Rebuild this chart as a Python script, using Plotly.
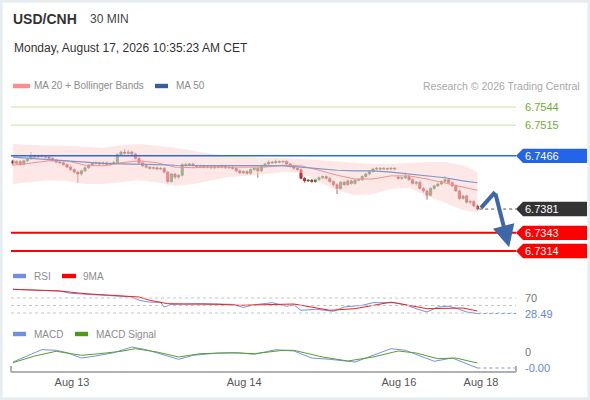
import plotly.graph_objects as go

# ---------------- data ----------------
opens = [6.7458,6.7454,6.7457,6.7452,6.7458,6.7461,6.7466,6.7464,6.7466,6.7465,
         6.7464,6.7462,6.7459,6.7456,6.7455,6.7452,6.7448,6.7444,6.7440,6.7437,
         6.7442,6.7447,6.7451,6.7454,6.7455,6.7453,6.7455,6.7452,6.7454,6.7455,
         6.7468,6.7472,6.7470,6.7472,6.7469,6.7462,6.7455,6.7450,6.7448,6.7446,
         6.7447,6.7445,6.7446,6.7440,6.7425,6.7437,6.7432,6.7435,6.7452,6.7451,
         6.7453,6.7450,6.7449,6.7450,6.7448,6.7449,6.7447,6.7449,6.7448,6.7450,
         6.7447,6.7448,6.7446,6.7442,6.7439,6.7441,6.7438,6.7444,6.7446,6.7442,
         6.7450,6.7453,6.7456,6.7455,6.7457,6.7456,6.7457,6.7453,6.7449,6.7446,
         6.7444,6.7430,6.7426,6.7427,6.7425,6.7428,6.7431,6.7433,6.7430,6.7425,
         6.7420,6.7414,6.7424,6.7420,6.7426,6.7422,6.7427,6.7428,6.7433,6.7437,
         6.7441,6.7445,6.7446,6.7445,6.7446,6.7445,6.7446,6.7432,6.7430,6.7431,
         6.7433,6.7428,6.7422,6.7424,6.7414,6.7410,6.7403,6.7414,6.7418,6.7421,
         6.7425,6.7428,6.7423,6.7418,6.7410,6.7398,6.7402,6.7392,6.7393,6.7386]
highs = [6.7460,6.7459,6.7459,6.7460,6.7463,6.7472,6.7468,6.7468,6.7468,6.7467,
         6.7466,6.7464,6.7461,6.7458,6.7457,6.7454,6.7450,6.7446,6.7442,6.7444,
         6.7449,6.7453,6.7456,6.7457,6.7457,6.7457,6.7457,6.7456,6.7458,6.7470,
         6.7474,6.7477,6.7475,6.7474,6.7471,6.7464,6.7457,6.7452,6.7450,6.7449,
         6.7449,6.7448,6.7448,6.7442,6.7439,6.7439,6.7437,6.7454,6.7455,6.7455,
         6.7455,6.7452,6.7452,6.7452,6.7451,6.7451,6.7451,6.7451,6.7452,6.7452,
         6.7450,6.7450,6.7448,6.7444,6.7443,6.7443,6.7446,6.7448,6.7448,6.7452,
         6.7455,6.7459,6.7458,6.7460,6.7459,6.7459,6.7459,6.7455,6.7451,6.7448,
         6.7446,6.7432,6.7429,6.7429,6.7430,6.7433,6.7435,6.7435,6.7432,6.7427,
         6.7422,6.7426,6.7426,6.7428,6.7428,6.7429,6.7430,6.7435,6.7439,6.7443,
         6.7447,6.7448,6.7448,6.7448,6.7447,6.7448,6.7448,6.7434,6.7433,6.7439,
         6.7435,6.7430,6.7426,6.7426,6.7416,6.7412,6.7416,6.7420,6.7423,6.7427,
         6.7434,6.7430,6.7425,6.7420,6.7412,6.7404,6.7404,6.7396,6.7395,6.7388]
lows = [6.7450,6.7452,6.7450,6.7451,6.7456,6.7460,6.7462,6.7463,6.7463,6.7462,
        6.7460,6.7457,6.7454,6.7453,6.7450,6.7446,6.7442,6.7438,6.7423,6.7434,
        6.7440,6.7445,6.7449,6.7452,6.7451,6.7451,6.7450,6.7450,6.7452,6.7453,
        6.7466,6.7468,6.7468,6.7467,6.7460,6.7453,6.7448,6.7446,6.7444,6.7444,
        6.7443,6.7443,6.7438,6.7422,6.7423,6.7429,6.7429,6.7433,6.7448,6.7449,
        6.7448,6.7447,6.7447,6.7446,6.7446,6.7445,6.7445,6.7446,6.7446,6.7445,
        6.7445,6.7444,6.7440,6.7437,6.7437,6.7436,6.7436,6.7442,6.7431,6.7440,
        6.7448,6.7451,6.7453,6.7453,6.7454,6.7454,6.7451,6.7447,6.7444,6.7442,
        6.7428,6.7423,6.7424,6.7423,6.7423,6.7426,6.7429,6.7428,6.7423,6.7417,
        6.7405,6.7412,6.7418,6.7418,6.7420,6.7420,6.7425,6.7426,6.7431,6.7435,
        6.7439,6.7443,6.7443,6.7443,6.7443,6.7443,6.7443,6.7428,6.7428,6.7429,
        6.7426,6.7420,6.7418,6.7412,6.7407,6.7396,6.7401,6.7412,6.7416,6.7419,
        6.7423,6.7421,6.7416,6.7408,6.7395,6.7396,6.7390,6.7389,6.7384,6.7379]
closes = [6.7454,6.7457,6.7452,6.7458,6.7461,6.7466,6.7464,6.7466,6.7465,6.7464,
          6.7462,6.7459,6.7456,6.7455,6.7452,6.7448,6.7444,6.7440,6.7437,6.7442,
          6.7447,6.7451,6.7454,6.7455,6.7453,6.7455,6.7452,6.7454,6.7455,6.7468,
          6.7472,6.7470,6.7472,6.7469,6.7462,6.7455,6.7450,6.7448,6.7446,6.7447,
          6.7445,6.7446,6.7440,6.7425,6.7437,6.7432,6.7435,6.7452,6.7451,6.7453,
          6.7450,6.7449,6.7450,6.7448,6.7449,6.7447,6.7449,6.7448,6.7450,6.7447,
          6.7448,6.7446,6.7442,6.7439,6.7441,6.7438,6.7444,6.7446,6.7442,6.7450,
          6.7453,6.7456,6.7455,6.7457,6.7456,6.7457,6.7453,6.7449,6.7446,6.7444,
          6.7430,6.7426,6.7427,6.7425,6.7428,6.7431,6.7433,6.7430,6.7425,6.7420,
          6.7414,6.7424,6.7420,6.7426,6.7422,6.7427,6.7428,6.7433,6.7437,6.7441,
          6.7445,6.7446,6.7445,6.7446,6.7445,6.7446,6.7445,6.7430,6.7431,6.7433,
          6.7428,6.7422,6.7424,6.7414,6.7410,6.7403,6.7414,6.7418,6.7421,6.7425,
          6.7428,6.7423,6.7418,6.7410,6.7398,6.7402,6.7392,6.7393,6.7386,6.7381]
candle_idx = list(range(len(closes)))

# indicator samples (candle index -> value)
ind_idx = [0,5,10,15,20,25,30,35,40,45,50,55,60,65,70,75,80,85,90,95,100,105,110,115,120,125,129]
ma50 = [6.7464,6.7462,6.7459,6.7457,6.7455,6.7454,6.7453,6.7453,6.7452,6.7451,6.7451,6.7451,6.7451,
        6.7450,6.7450,6.7450,6.7448,6.7445,6.7443,6.7442,6.7442,6.7440,6.7437,6.7434,6.7431,6.7426,6.7423]
ma20 = [6.7451,6.7455,6.7458,6.7458,6.7451,6.7450,6.7455,6.7458,6.7455,6.7448,6.7447,6.7448,6.7448,
        6.7447,6.7448,6.7451,6.7450,6.7443,6.7435,6.7429,6.7429,6.7434,6.7434,6.7429,6.7423,6.7416,6.7411]
bb_upper = [6.7485,6.7483,6.7482,6.7482,6.7480,6.7479,6.7483,6.7485,6.7482,6.7479,6.7474,6.7469,6.7466,
            6.7464,6.7463,6.7463,6.7461,6.7459,6.7458,6.7455,6.7453,6.7453,6.7455,6.7456,6.7456,6.7451,6.7440]
bb_lower = [6.7421,6.7424,6.7427,6.7426,6.7421,6.7421,6.7424,6.7427,6.7424,6.7418,6.7421,6.7427,6.7432,
            6.7434,6.7437,6.7440,6.7439,6.7424,6.7411,6.7403,6.7405,6.7413,6.7415,6.7402,6.7391,6.7379,6.7376]

green_levels = [6.7544, 6.7515]
resistance_level = 6.7466
support_levels = [6.7343, 6.7314]
last_price = 6.7381
forecast_x = [130.0, 133.9, 137.8]
forecast_y = [6.7383, 6.7408, 6.7320]

rsi_idx = [0,13,16,24,30,33,35,38,41,42,44,52,61,64,67,72,76,78,80,84,89,92,97,100,106,109,112,115,118,121,124,126,129]
rsi = [93.2,88.5,82.5,78.8,74.5,73.0,64.0,59.0,58.5,46.0,53.0,55.0,53.0,45.0,52.0,57.5,48.0,52.0,37.0,
       40.0,34.5,46.0,50.5,57.5,57.5,52.0,41.5,32.7,46.0,48.0,40.0,32.7,28.49]
rsi_ma_idx = [0,13,20,29,35,38,43,48,57,63,71,78,88,95,105,111,115,125,129]
rsi_ma = [93.2,88.7,81.5,77.2,72.7,63.9,54.8,54.0,53.2,50.5,52.1,54.0,37.2,41.5,59.0,48.7,41.5,43.3,35.3]
rsi_levels = [70, 50, 30]

macd_idx = [0,4,8,12,15,19,23,28,33,37,41,46,50,57,63,67,73,78,83,88,95,100,105,109,114,117,122,126,129]
macd = [-0.00020,-0.00008,0.000046,0.000034,-0.000014,-0.00012,-0.00008,-0.000014,0.00010,0.000046,
        -0.000034,-0.000146,-0.000066,-0.00002,-0.00002,-0.000046,0.000046,0.00002,-0.00012,-0.000146,
        -0.00020,-0.000066,0.000066,0.000034,-0.00010,-0.000186,-0.00012,-0.000234,-0.00032]
signal_idx = [0,6,12,19,24,30,34,40,46,52,61,67,75,78,86,93,100,107,112,118,123,129]
signal = [-0.000214,-0.00008,0.000014,-0.000066,-0.000034,0.000014,0.000066,0.0,-0.00010,-0.000034,
          -0.000014,-0.000034,0.000034,0.000034,-0.00010,-0.00018,-0.00010,0.00002,-0.00002,-0.000134,
          -0.00012,-0.00022]

tick_vals = [16.4, 64.2, 107.2, 130.0]
tick_text = ["Aug 13", "Aug 14", "Aug 16", "Aug 18"]

# ---------------- layout helpers ----------------
W, H = 590, 400
FONT = "Liberation Sans, Arial, sans-serif"
X_END = 139.72
def px(x): return x / W
def py(y): return 1 - y / H

fig = go.Figure()

# Bollinger band
fig.add_trace(go.Scatter(x=ind_idx, y=bb_lower, mode="lines", line=dict(width=0, color="rgba(0,0,0,0)"),
                         hoverinfo="skip", showlegend=False))
fig.add_trace(go.Scatter(x=ind_idx, y=bb_upper, mode="lines", line=dict(width=0, color="rgba(0,0,0,0)"),
                         fill="tonexty", fillcolor="rgba(252,212,212,0.55)", hoverinfo="skip", showlegend=False))
fig.add_trace(go.Scatter(x=ind_idx, y=ma20, mode="lines", line=dict(width=1, color="#f49090"), showlegend=False))
fig.add_trace(go.Scatter(x=ind_idx, y=ma50, mode="lines", line=dict(width=1.2, color="#7f98c8"), showlegend=False))

fig.add_trace(go.Candlestick(x=candle_idx, open=opens, high=highs, low=lows, close=closes,
                             increasing=dict(line=dict(color="#2c6a2c", width=0.7), fillcolor="#2f8a2f"),
                             decreasing=dict(line=dict(color="#a52424", width=0.7), fillcolor="#d92626"),
                             showlegend=False))

# last price dotted
fig.add_trace(go.Scatter(x=[candle_idx[-1] + 0.5, X_END], y=[last_price, last_price], mode="lines",
                         line=dict(color="#555", width=1, dash="dot"), showlegend=False))
# forecast arrow shaft
fig.add_trace(go.Scatter(x=forecast_x[:2], y=forecast_y[:2], mode="lines",
                         line=dict(color="#3d67a8", width=4), showlegend=False))

# RSI
fig.add_trace(go.Scatter(x=rsi_idx, y=rsi, yaxis="y2", mode="lines", line=dict(color="#7592e4", width=1), showlegend=False))
fig.add_trace(go.Scatter(x=rsi_ma_idx, y=rsi_ma, yaxis="y2", mode="lines", line=dict(color="#f22020", width=1), showlegend=False))
fig.add_trace(go.Scatter(x=[rsi_idx[-1], X_END], y=[rsi[-1], rsi[-1]], yaxis="y2", mode="lines",
                         line=dict(color="#7592e4", width=1, dash="dot"), showlegend=False))
# MACD
fig.add_trace(go.Scatter(x=macd_idx, y=macd, yaxis="y3", mode="lines", line=dict(color="#7592e4", width=1), showlegend=False))
fig.add_trace(go.Scatter(x=signal_idx, y=signal, yaxis="y3", mode="lines", line=dict(color="#5a9e2e", width=1), showlegend=False))
fig.add_trace(go.Scatter(x=[macd_idx[-1], X_END], y=[macd[-1], macd[-1]], yaxis="y3", mode="lines",
                         line=dict(color="#7592e4", width=1, dash="dot"), showlegend=False))

shapes = []
ann = []

# border
shapes.append(dict(type="rect", xref="paper", yref="paper", x0=0, x1=1, y0=0, y1=1,
                   line=dict(color="#e6ecf0", width=5), fillcolor="rgba(0,0,0,0)", layer="above"))

# level lines
for lv in green_levels:
    shapes.append(dict(type="line", xref="x domain", yref="y", x0=0, x1=1, y0=lv, y1=lv,
                       line=dict(color="#c9e1aa", width=1)))
    ann.append(dict(xref="paper", yref="y", x=px(523), y=lv, text=f"{lv:.4f}", showarrow=False,
                    xanchor="left", font=dict(family=FONT, size=11, color="#72ab34")))
shapes.append(dict(type="line", xref="x domain", yref="y", x0=0, x1=1, y0=resistance_level, y1=resistance_level,
                   line=dict(color="#2a6ae8", width=1.5)))
for lv in support_levels:
    shapes.append(dict(type="line", xref="x domain", yref="y", x0=0, x1=1, y0=lv, y1=lv,
                       line=dict(color="#ff0000", width=2)))

HALF = 7.2 / 6260.87
def tag(level, color):
    x_tip, x_b, x_r = px(516), px(523), px(587)
    path = (f"M {x_tip},{level} L {x_b},{level + HALF} L {x_r},{level + HALF} "
            f"L {x_r},{level - HALF} L {x_b},{level - HALF} Z")
    shapes.append(dict(type="path", xref="paper", yref="y", path=path, fillcolor=color, line=dict(width=0)))
    ann.append(dict(xref="paper", yref="y", x=px(523), y=level, text=f"{level:.4f}", showarrow=False,
                    xanchor="left", font=dict(family=FONT, size=11, color="white")))
tag(resistance_level, "#2464e8")
tag(last_price, "#333333")
for lv in support_levels:
    tag(lv, "#ff0000")

# forecast arrow head
ann.append(dict(x=forecast_x[2], y=forecast_y[2], ax=forecast_x[1], ay=forecast_y[1], xref="x", yref="y",
                axref="x", ayref="y", showarrow=True, arrowhead=2, arrowsize=1.1, arrowwidth=4,
                arrowcolor="#3d67a8", text=""))

# RSI gridlines
for lv in rsi_levels:
    shapes.append(dict(type="line", xref="x domain", yref="y2", x0=0, x1=1, y0=lv, y1=lv,
                       line=dict(color="#c4c4c4", width=1, dash="dot")))
ann.append(dict(xref="paper", yref="y2", x=px(523), y=70, text="70", showarrow=False, xanchor="left",
                font=dict(family=FONT, size=11, color="#777")))
ann.append(dict(xref="paper", yref="y2", x=px(523), y=rsi[-1], text=f"{rsi[-1]:.2f}", showarrow=False, xanchor="left",
                font=dict(family=FONT, size=11, color="#6584e0")))
ann.append(dict(xref="paper", yref="y3", x=px(523), y=0, text="0", showarrow=False, xanchor="left",
                font=dict(family=FONT, size=11, color="#777")))
ann.append(dict(xref="paper", yref="y3", x=px(523), y=macd[-1], text=f"{macd[-1]:.2f}", showarrow=False, xanchor="left",
                font=dict(family=FONT, size=11, color="#6584e0")))

# axis end ticks
for xe in (11, 516):
    shapes.append(dict(type="line", xref="paper", yref="paper", x0=px(xe), x1=px(xe), y0=py(372), y1=py(366),
                       line=dict(color="#b0b0b0", width=2)))

# header texts
def text(x, y, s, size, color, anchor="left"):
    ann.append(dict(xref="paper", yref="paper", x=px(x), y=py(y), text=s, showarrow=False,
                    xanchor=anchor, yanchor="middle", font=dict(family=FONT, size=size, color=color)))
text(11, 19, "<b>USD/CNH</b>", 14, "#333")
text(88, 19, "30 MIN", 12, "#444")
text(12, 48, "Monday, August 17, 2026 10:35:23 AM CET", 12, "#333")
text(32, 86, "MA 20 + Bollinger Bands", 10, "#8c8c8c")
text(174, 86, "MA 50", 10, "#8c8c8c")
text(582, 86, "Research © 2026 Trading Central", 10.5, "#a8a8a8", "right")
text(32, 276, "RSI", 10, "#8c8c8c")
text(81, 276, "9MA", 10, "#8c8c8c")
text(32, 334, "MACD", 10, "#8c8c8c")
text(94, 334, "MACD Signal", 10, "#8c8c8c")

def swatch(x0, x1, y, color):
    shapes.append(dict(type="rect", xref="paper", yref="paper", x0=px(x0), x1=px(x1), y0=py(y + 2.2), y1=py(y - 2.2),
                       fillcolor=color, line=dict(width=0)))
swatch(13, 30, 86, "#ff8c8c")
swatch(155, 168, 86, "#3a5c9c")
swatch(13, 26, 276, "#6f8ee6")
swatch(62, 76, 276, "#ff0000")
swatch(13, 26, 334, "#6f8ee6")
swatch(75, 88, 334, "#4c9a1a")

fig.update_layout(
    width=W, height=H, margin=dict(l=0, r=0, t=0, b=0),
    paper_bgcolor="white", plot_bgcolor="white", showlegend=False,
    font=dict(family=FONT), boxgap=0.12,
    xaxis=dict(domain=[px(11), px(516)], range=[-0.556, X_END], anchor="free", position=py(372),
               showline=True, linecolor="#b0b0b0", linewidth=2, ticks="", showgrid=False, zeroline=False,
               tickvals=tick_vals, ticktext=tick_text, tickfont=dict(family=FONT, size=11, color="#555"),
               rangeslider=dict(visible=False), fixedrange=True),
    yaxis=dict(domain=[py(262), py(100)], range=[6.729643, 6.755518], visible=False, fixedrange=True),
    yaxis2=dict(domain=[py(318), py(286)], range=[16.67, 102], visible=False, fixedrange=True, anchor="x"),
    yaxis3=dict(domain=[py(371), py(340)], range=[-0.00038, 0.00024], visible=False, fixedrange=True, anchor="x"),
    shapes=shapes, annotations=ann,
)

fig.write_html("out.html", config={"displayModeBar": False},
               post_script="document.body.style.margin='0';document.body.style.padding='0';")
